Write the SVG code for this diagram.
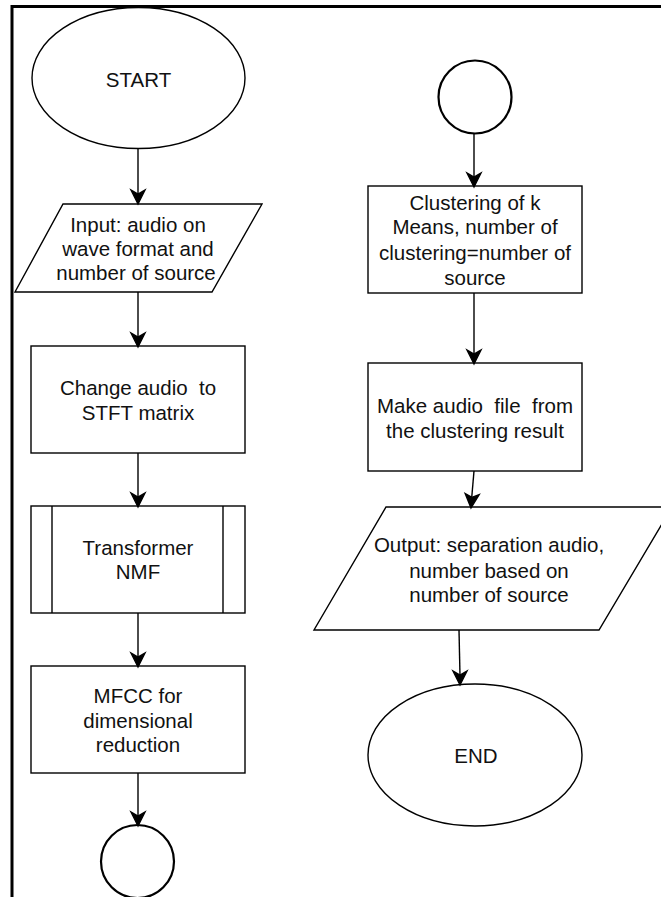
<svg xmlns="http://www.w3.org/2000/svg" width="661" height="897" viewBox="0 0 661 897">
<style>
.s{fill:#fff;stroke:#000;stroke-width:1.4}
.c{fill:#fff;stroke:#000;stroke-width:2.2}
.t{font-family:"Liberation Sans",Arial,sans-serif;font-size:20.5px;fill:#111;text-anchor:middle}
.e{fill:none;stroke:#000;stroke-width:1.4}
</style>
<rect width="661" height="897" fill="#fff"/>
<g id="frame" fill="none" stroke="#000" stroke-width="3">
<path d="M12,897 L12,6.5 L661,6.5"/>
</g>
<g id="start">
<ellipse class="s" cx="138.5" cy="78" rx="106.5" ry="70.5"/>
<text class="t" x="138.5" y="87">START</text>
</g>
<g id="input">
<polygon class="s" points="63,204 262,204 212,292 15,292"/>
<text class="t" x="138" y="232">Input: audio on</text>
<text class="t" x="138" y="256">wave format and</text>
<text class="t" x="136" y="280">number of source</text>
</g>
<g id="stft">
<rect class="s" x="31" y="346" width="214" height="107"/>
<text class="t" x="138" y="395" xml:space="preserve">Change audio  to</text>
<text class="t" x="138" y="420">STFT matrix</text>
</g>
<g id="nmf">
<rect class="s" x="31" y="506" width="214" height="107"/>
<line class="e" x1="52" y1="506" x2="52" y2="613"/>
<line class="e" x1="223" y1="506" x2="223" y2="613"/>
<text class="t" x="138" y="555">Transformer</text>
<text class="t" x="138" y="579">NMF</text>
</g>
<g id="mfcc">
<rect class="s" x="31" y="666" width="214" height="107"/>
<text class="t" x="138" y="703">MFCC for</text>
<text class="t" x="138" y="728">dimensional</text>
<text class="t" x="138" y="752">reduction</text>
</g>
<g id="connector-out">
<circle class="c" cx="137.5" cy="861.5" r="36.5"/>
</g>
<g id="connector-in">
<circle class="c" cx="475" cy="97" r="36.5"/>
</g>
<g id="kmeans">
<rect class="s" x="368" y="186" width="214" height="107"/>
<text class="t" x="475" y="210">Clustering of k</text>
<text class="t" x="475" y="234">Means, number of</text>
<text class="t" x="475" y="260">clustering=number of</text>
<text class="t" x="475" y="285">source</text>
</g>
<g id="makeaudio">
<rect class="s" x="368" y="363" width="214" height="108"/>
<text class="t" x="475" y="413" xml:space="preserve">Make audio  file  from</text>
<text class="t" x="475" y="438">the clustering result</text>
</g>
<g id="output">
<polygon class="s" points="386,507 672,507 599,630 314,630"/>
<text class="t" x="489" y="552">Output: separation audio,</text>
<text class="t" x="489" y="578">number based on</text>
<text class="t" x="489" y="602">number of source</text>
</g>
<g id="end">
<ellipse class="s" cx="475" cy="755" rx="107" ry="71"/>
<text class="t" x="476" y="763">END</text>
</g>
<g id="connectors" fill="#000" stroke="#000" stroke-width="1.4">
<line x1="138" y1="149" x2="138" y2="195"/>
<polygon points="138,204 131,190 138,194 145,190"/>
<line x1="138" y1="292" x2="138" y2="338"/>
<polygon points="138,347 131,333 138,337 145,333"/>
<line x1="138" y1="453" x2="138" y2="498"/>
<polygon points="138,507 131,493 138,497 145,493"/>
<line x1="138" y1="613" x2="138" y2="658"/>
<polygon points="138,667 131,653 138,657 145,653"/>
<line x1="138" y1="773" x2="138" y2="817"/>
<polygon points="138,826 131,812 138,816 145,812"/>
<line x1="474" y1="133" x2="474" y2="178"/>
<polygon points="474,187 467,173 474,177 481,173"/>
<line x1="474" y1="293" x2="474" y2="355"/>
<polygon points="474,364 467,350 474,354 481,350"/>
<line x1="474" y1="471" x2="471.6" y2="499"/>
<polygon points="471,508 465.2,493.5 471.9,497.3 479.2,494.7"/>
<line x1="459" y1="630" x2="460" y2="676"/>
<polygon points="460,685 453,671 460,675 467,671"/>
</g>
</svg>
